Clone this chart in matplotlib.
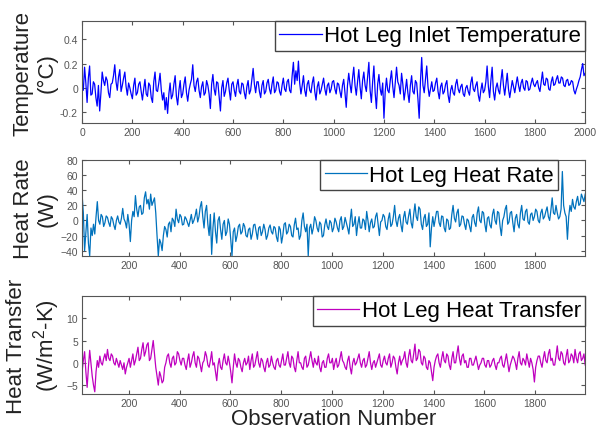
import numpy as np
import matplotlib
matplotlib.use('Agg')
import matplotlib.pyplot as plt

plt.rcParams['font.family'] = ['Liberation Sans', 'DejaVu Sans']
plt.rcParams['mathtext.fontset'] = 'custom'
plt.rcParams['mathtext.rm'] = 'Liberation Sans'

# temperature (°C), une valeur toutes les 5 observations (0 -> 2000)
temp = [0.05, -0.02, 0.17, 0.04, -0.12, 0.08, 0.18, -0.06, -0.05, 0.05, 0.03, -0.08, -0.15, 0.02, -0.19, -0.04, 0.13, 0.06, 0.02, 0.09,
        0.06, -0.04, -0.08, 0.03, 0.04, 0.10, 0.19, 0.05, -0.02, 0.09, 0.15, -0.03, 0.02, 0.08, 0.13, 0.01, -0.06, 0.04, 0.00, -0.05,
        -0.09, 0.02, 0.08, -0.06, -0.04, 0.03, 0.05, -0.03, -0.10, -0.01, 0.07, -0.05, -0.07, 0.04, 0.02, -0.08, -0.12, 0.05, 0.13, -0.02,
        -0.03, 0.04, 0.12, -0.02, -0.10, -0.04, -0.18, -0.08, -0.21, -0.05, 0.04, -0.09, -0.06, 0.03, 0.10, -0.07, -0.14, -0.02, 0.06, -0.08,
        -0.05, 0.03, 0.09, -0.04, -0.11, -0.02, 0.03, 0.07, 0.19, 0.02, -0.03, 0.05, 0.08, -0.02, -0.08, 0.01, 0.05, -0.06, -0.04, 0.06,
        0.02, -0.05, -0.17, 0.03, 0.11, -0.01, -0.06, 0.05, 0.04, -0.08, -0.19, 0.00, 0.06, -0.07, -0.03, 0.04, 0.08, -0.02, -0.10, 0.03,
        0.05, -0.02, -0.07, 0.02, 0.07, -0.03, -0.05, 0.04, 0.03, -0.04, -0.09, 0.01, 0.06, -0.05, -0.02, 0.07, 0.16, 0.03, -0.04, 0.05,
        0.05, -0.03, -0.08, 0.02, 0.06, -0.05, -0.03, 0.04, 0.07, -0.01, -0.05, 0.03, 0.09, -0.04, -0.02, 0.05, 0.04, -0.03, -0.06, 0.02,
        0.08, -0.01, -0.03, 0.05, 0.07, -0.02, -0.04, 0.10, 0.21, 0.03, 0.14, 0.06, 0.22, 0.04, -0.05, 0.02, 0.10, -0.02, -0.07, 0.03,
        0.06, -0.02, -0.04, 0.04, 0.09, -0.03, -0.10, 0.01, 0.05, -0.05, -0.02, 0.03, 0.08, -0.01, -0.06, 0.02, 0.04, -0.04, -0.01, 0.05,
        0.06, -0.01, -0.05, 0.04, 0.03, -0.03, -0.08, 0.02, 0.07, -0.04, -0.16, 0.02, 0.12, 0.03, -0.04, 0.08, 0.17, 0.02, -0.06, 0.05,
        0.15, 0.01, -0.09, 0.06, 0.13, 0.02, -0.03, 0.09, 0.21, -0.02, -0.12, 0.05, 0.18, -0.04, -0.17, 0.03, 0.11, -0.01, -0.06, 0.04,
        -0.25, -0.03, 0.08, -0.02, -0.04, 0.06, 0.14, 0.01, -0.08, 0.04, 0.17, 0.05, 0.02, -0.05, 0.12, 0.03, -0.10, -0.02, 0.07, -0.04,
        -0.12, 0.02, 0.10, -0.03, -0.05, 0.06, 0.04, -0.09, -0.25, 0.05, 0.25, 0.02, -0.04, 0.07, 0.18, 0.01, -0.07, -0.01, 0.05, -0.03,
        -0.02, 0.04, 0.08, -0.03, -0.09, 0.01, 0.04, -0.05, -0.03, 0.03, 0.06, -0.06, -0.12, -0.02, 0.02, -0.04, -0.06, 0.03, 0.07, -0.01,
        -0.04, 0.01, 0.03, -0.05, -0.07, 0.00, 0.02, -0.03, -0.06, 0.04, 0.09, -0.01, -0.03, 0.02, 0.05, -0.06, -0.11, -0.02, 0.04, -0.04,
        -0.02, 0.05, 0.18, 0.01, -0.08, 0.06, 0.17, -0.03, -0.10, 0.00, 0.04, -0.02, -0.05, 0.06, 0.15, 0.02, -0.06, 0.03, 0.12, -0.01,
        -0.08, -0.01, 0.06, 0.01, -0.04, 0.03, 0.09, 0.02, -0.03, 0.04, 0.07, 0.00, -0.02, 0.06, 0.05, -0.02, -0.01, 0.04, 0.08, 0.03,
        0.01, 0.04, 0.06, 0.00, -0.03, 0.05, 0.13, 0.03, 0.02, 0.08, 0.07, -0.01, -0.02, 0.05, 0.09, 0.02, 0.03, 0.07, 0.10, 0.04,
        0.04, 0.09, 0.08, 0.02, 0.01, 0.06, 0.07, 0.02, 0.03, 0.06, 0.05, -0.02, -0.05, -0.01, 0.02, 0.06, 0.09, 0.15, 0.20, 0.10,
        0.12]

# heat rate (W), observations 16 -> 1997
rate = [35, 10, -40, -15, 8, -30, -47, -10, -20, -5, -18, 5, 25, 0, -5, 8, 5, -8, -3, 6,
        4, -3, -8, 5, 2, -6, -12, 0, 6, -2, -5, 3, 16, 2, -2, -10, 8, -5, -28, 0,
        12, 5, 33, 15, 5, 18, 20, 8, 10, 30, 38, 22, 28, 15, 35, 20, 25, 30, 10, -20,
        -47, -25, -30, -40, -20, -8, -12, -22, -5, -2, -15, 3, 0, -8, 15, 2, -3, 8, 5, -6,
        -5, 5, 2, -3, -8, 0, 8, -4, 0, 6, 15, -2, 5, 18, 25, 5, -10, 12, 20, -5,
        -20, 8, -45, -10, 10, -15, -30, 0, 5, -12, -25, -5, 0, -20, -15, 2, -5, -25, -47, -15,
        -10, -28, -20, -8, -5, -18, -15, -4, -8, -20, -22, -12, -10, -25, -18, -6, -5, -15, -25, -10,
        -8, -20, -15, -5, -12, -25, -20, -10, -6, -15, -18, -8, -10, -22, -28, -8, -12, -30, -20, -5,
        -3, -18, -15, -5, -8, -20, -22, -6, 3, -12, -10, -25, -20, 0, 10, -8, -15, -5, -47, -10,
        -5, -18, -10, 5, 0, -10, -15, -2, -5, -22, -20, -6, 2, -8, -12, 0, -3, -15, -10, 3,
        -2, -10, -15, 0, 5, -12, -8, 4, -3, -10, -18, 0, 15, -8, -5, 5, -20, -5, 5, -10,
        -10, 2, 0, -12, 12, 0, -15, -3, 2, -10, -8, 5, 10, -5, -20, -2, 0, 8, 5, -8,
        -12, 2, 10, -8, -5, 5, 20, 0, -8, 3, 8, -6, -15, 4, 12, -2, -5, 6, 15, -3,
        -10, 8, 22, 5, 0, 18, 15, -5, -12, 3, 8, -8, -5, 10, -35, -10, 5, -8, 2, 12,
        12, -3, -8, 6, 5, -10, -15, 2, 0, -12, -10, 8, 20, 3, -2, 10, 15, -8, -5, 6,
        5, -5, -12, 2, 0, -8, -15, 4, 8, -3, -8, 10, 18, 0, -3, 12, 10, -5, -15, 3,
        5, -6, -10, 8, 15, 0, -5, 12, 10, -8, -20, 0, 5, 15, 20, -5, -2, 10, 12, -3,
        -15, 3, 8, -5, -10, 10, 20, 2, 0, 12, 15, -2, -5, 8, 10, 0, 5, 15, 12, 0,
        -3, 10, 15, 2, 5, 12, 18, 5, 0, 14, 30, 10, 8, 20, 10, 2, 5, 15, 65, 20,
        10, 5, -25, 5, 20, 12, 28, 18, 15, 25, 32, 20, 22, 35, 30, 25, 35]

# heat transfer (W/m2-K), observations 16 -> 1997
transfer = [-2, 0.5, 2.5, -2, -5.5, -1, 2.8, 0, -3, -5, -6.5, -2, 0.5, -1, 1.5, 0, -0.5, 1, 2, 0.5,
            3, 1, 0.5, 2, 1.5, 0, -0.5, 1, 0, -1, 0.5, -0.5, -1.5, 0, -2.5, -1, 0, 1, -1, 0.5,
            2, -0.5, 0.5, 2, 3.5, 0.5, 1, 3, 4.5, 1.5, 2.5, 4, 4.5, 0.5, 1, 3, 5, 2, -1, -3,
            -5, -2, -3, -4.5, -4, -1, 0, 1.5, 2, 0, -1, 1, 1.5, -0.5, 0, 2.5, 2, 0.5, -0.5, 1,
            1, -0.5, -1.5, 0.5, 2, -1, 0, 1.5, 2.5, 0, -1, 1.5, 1, -0.5, -2, 0, 0.5, 2.5, 1.5, -0.5,
            -1, 0.5, 2.5, -0.5, 0, -2, -4, -0.5, 1, -1, -1.5, 0.5, 2, 0, -0.5, 1.5, 0, -2, -4.5, -1,
            2, 0, -1, 1, 0.5, -1, -2, 0, 1, -0.5, 0, 1.5, -1.5, 0.5, 2, -1, -0.5, 1, 2.5, 0,
            -1, 1, 0.5, -1, -2, 0, 1, -1, -0.5, 1.5, 0, -1, -1.5, 0.5, 1, -0.5, -1, 0.5, 2, -0.5,
            -0.5, 1, 2.5, 0, -1, 1.5, 1, -1, -2, 0.5, 2.5, 0, 0, -1, -1.5, 1, 1.5, -1, -0.5, 1,
            2.5, 0.5, -1, 1, 0, -0.5, 1.5, -1, -2, 0, 0.5, -1, -1, 1, 2, 0, 0, 1, -1.5, 0,
            1, -1, -0.5, 1, 2.5, 0.5, 0, -1, -1.5, 0.5, 1.5, -1, -2.5, 0, 1, -0.5, 0, 1, 2, 0,
            -1, 0.5, 1, -1, -0.5, 1, 2.5, 0, -1.5, 0, 0.5, -1, 0, 1, 2, -0.5, -1, 0.5, 1.5, 0,
            -0.5, 1, 2, -1, 0, 1.5, 1, -1, -2.5, 0, 1.5, -0.5, 0.5, 1, 2.5, 0, -1, 1.5, 3, 0.5,
            0, 2, 4.2, 0.5, 1, 3, 2.5, 0, -0.5, 1.5, 1, -1, -1.5, 0.5, 0, -2, -4, -1, 0.5, 1.5,
            2, 0, -1, 1, 2.5, 0.5, 0, 2, 1.5, -0.5, -1.5, 1, 2.5, 0, 0, 2, 3.8, 1, -0.5, 1.5,
            2, 0, 0.5, -1, -1, 1, 1, -0.5, -0.5, 0.5, 1.5, 0, -1.5, -0.5, 0, 1, 1, -0.5, -1, 0.5,
            0.5, -1, -0.5, 0.5, 1, -0.5, -1.5, 0, 0, 1, 1.5, -0.5, -1, 0.5, 2, 0, -2, -0.5, 0.5, 1.5,
            1, 0, -1.5, 1, 2.5, 0, -0.5, 1, 0.5, -0.5, 2, 0.5, -1, 1, 0, -1.5, -4.3, -1, 0.5, 1.5,
            1.5, 0, -1, 1, 2.5, 0.5, 0, 2, 3, 0.5, 1, -0.5, -0.5, 1.5, 3.8, 1, 0.5, 2.5, 2, 0,
            -0.5, 1.5, 3, 0, 0.5, 2, 1.5, 0, 3, 1, 0, 2, 2.5, 0.5, 1, 2, -0.5]

x_temp = np.linspace(0, 2000, len(temp))
x_rate = np.linspace(16, 1997, len(rate))
x_tr = np.linspace(16, 1997, len(transfer))

fig = plt.figure(figsize=(5.99, 4.31), dpi=100)
ax1 = fig.add_axes([0.137, 0.712, 0.840, 0.237])
ax2 = fig.add_axes([0.137, 0.404, 0.840, 0.222])
ax3 = fig.add_axes([0.137, 0.0835, 0.840, 0.2275])

gris = '#555555'
for ax in (ax1, ax2, ax3):
    ax.tick_params(direction='in', top=True, right=True, length=3,
                   labelsize=7.5, labelcolor=gris, color=gris, pad=3)
    for s in ax.spines.values():
        s.set_color(gris)

leg_kw = dict(loc='upper right', borderaxespad=0, fontsize=16, handlelength=1.9,
              handletextpad=0.1, borderpad=0.2, fancybox=False, framealpha=1,
              edgecolor='#444444')

ax1.plot(x_temp, temp, color='#0000FF', lw=0.9, label='Hot Leg Inlet Temperature')
ax1.set_xlim(0, 2000)
ax1.set_ylim(-0.29, 0.55)
ax1.set_xticks(range(0, 2001, 200))
ax1.set_yticks([-0.2, 0, 0.2, 0.4])
ax1.set_yticklabels(['-0.2', '0', '0.2', '0.4'])
ax1.set_ylabel('Temperature\n(°C)', fontsize=16, linespacing=1.2, color='#222222')
ax1.yaxis.set_label_coords(-0.048, 0.5)
ax1.legend(bbox_to_anchor=(1.0, 1.0), **leg_kw)

ax2.plot(x_rate, rate, color='#0072BD', lw=0.9, label='Hot Leg Heat Rate')
ax2.set_xlim(16, 1997)
ax2.set_ylim(-47, 80)
ax2.set_xticks(range(200, 1801, 200))
ax2.set_yticks(range(-40, 81, 20))
ax2.set_ylabel('Heat Rate\n(W)', fontsize=16, linespacing=1.2, color='#222222')
ax2.yaxis.set_label_coords(-0.048, 0.5)
ax2.legend(bbox_to_anchor=(0.946, 1.0), **leg_kw)

ax3.plot(x_tr, transfer, color='#BF00BF', lw=0.9, label='Hot Leg Heat Transfer')
ax3.set_xlim(16, 1997)
ax3.set_ylim(-7, 15)
ax3.set_xticks(range(200, 1801, 200))
ax3.set_yticks([-5, 0, 5, 10])
ax3.set_ylabel('Heat Transfer\n(W/m$^2$-K)', fontsize=16, linespacing=1.2, color='#222222')
ax3.yaxis.set_label_coords(-0.040, 0.5)
ax3.set_xlabel('Observation Number', fontsize=16, color='#222222', labelpad=0)
ax3.legend(bbox_to_anchor=(1.0, 1.0), **leg_kw)

fig.savefig('out.png', dpi=100)
